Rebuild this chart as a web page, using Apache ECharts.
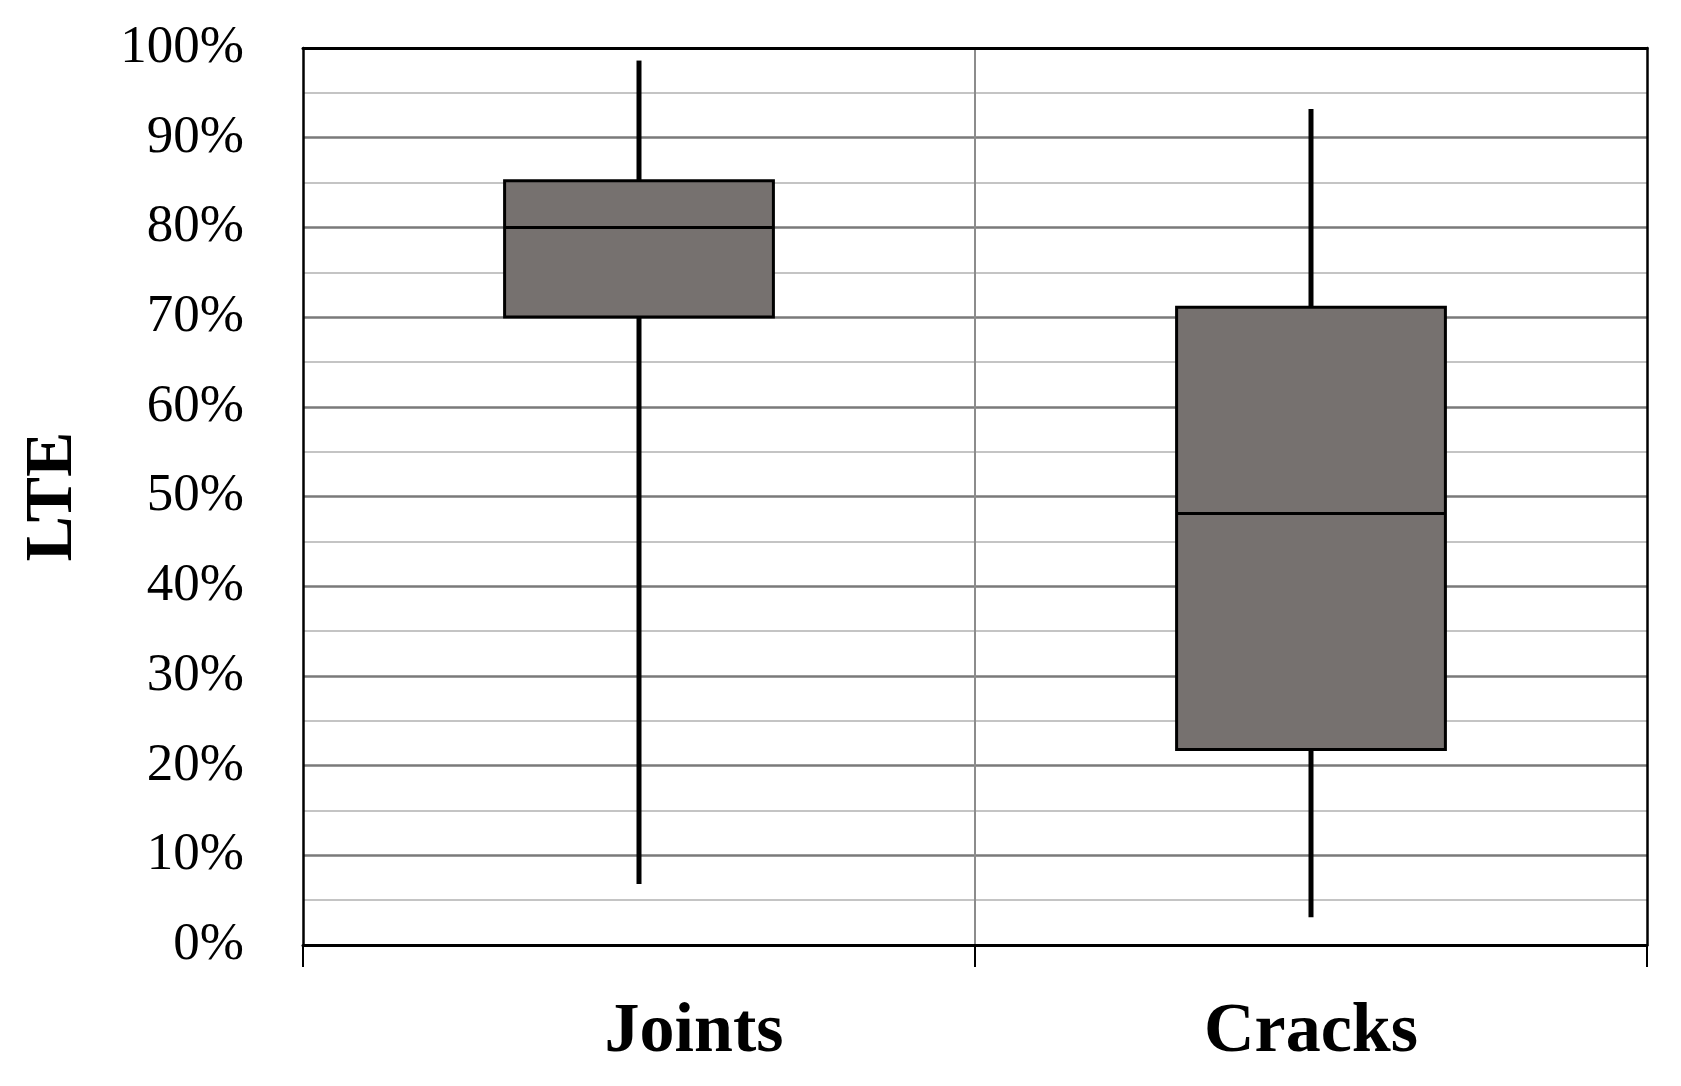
<!DOCTYPE html>
<html>
<head>
<meta charset="utf-8">
<title>LTE box plot</title>
<script src="https://cdn.jsdelivr.net/npm/echarts@6/dist/echarts.min.js"></script>
<style>
  html, body { margin: 0; padding: 0; background: #fff; }
  #chart { width: 1681px; height: 1086px; }
</style>
</head>
<body>
<div id="chart"></div>
<script>
// categories and five-number summaries (in %)
const categories = ['Joints', 'Cracks']
const minValues = [6.8, 3.1]
const q1Values = [70, 21.8]
const medianValues = [80, 48.1]
const q3Values = [85.2, 71.1]
const maxValues = [98.6, 93.2]

const boxData = categories.map((c, i) => [i, minValues[i], q1Values[i], medianValues[i], q3Values[i], maxValues[i]])

const serif = '"Liberation Serif", "DejaVu Serif", serif'

function renderBox(params, api) {
  const x = api.value(0)
  const pMin = api.coord([x, api.value(1)])
  const pQ1 = api.coord([x, api.value(2)])
  const pMed = api.coord([x, api.value(3)])
  const pQ3 = api.coord([x, api.value(4)])
  const pMax = api.coord([x, api.value(5)])
  const halfW = api.size([1, 0])[0] * 0.4 / 2
  const cx = pMed[0]
  return {
    type: 'group',
    children: [
      { type: 'line', shape: { x1: cx, y1: pMax[1], x2: cx, y2: pQ3[1] }, style: { stroke: '#000', lineWidth: 5 } },
      { type: 'line', shape: { x1: cx, y1: pQ1[1], x2: cx, y2: pMin[1] }, style: { stroke: '#000', lineWidth: 5 } },
      {
        type: 'rect',
        shape: { x: cx - halfW, y: pQ3[1], width: halfW * 2, height: pQ1[1] - pQ3[1] },
        style: { fill: '#76716f', stroke: '#000', lineWidth: 3 }
      },
      { type: 'line', shape: { x1: cx - halfW, y1: pMed[1], x2: cx + halfW, y2: pMed[1] }, style: { stroke: '#000', lineWidth: 3 } }
    ]
  }
}

const chart = echarts.init(document.getElementById('chart'))
chart.setOption({
  backgroundColor: '#fff',
  animation: false,
  grid: { left: 303, right: 34, top: 48, bottom: 141 },
  xAxis: [{
    type: 'category',
    data: categories,
    axisLine: { lineStyle: { color: '#000', width: 3 } },
    axisTick: { show: true, length: 22, lineStyle: { color: '#000', width: 2 } },
    splitLine: { show: true, showMinLine: false, showMaxLine: false, lineStyle: { color: '#8c8c8c', width: 2 } },
    axisLabel: {
      color: '#000', fontFamily: serif, fontWeight: 'bold', fontSize: 70, margin: 53,
      formatter: v => v === 'Joints' ? '{j|' + v + '}' : v,
      rich: {
        j: { fontFamily: serif, fontWeight: 'bold', fontSize: 70, color: '#000', padding: [0, 0, 0, 110] }
      }
    }
  }, {
    // top border
    type: 'category',
    position: 'top',
    data: categories,
    z: 20,
    axisLine: { show: true, onZero: false, lineStyle: { color: '#000', width: 3 } },
    axisTick: { show: false },
    axisLabel: { show: false },
    splitLine: { show: false }
  }],
  yAxis: [{
    type: 'value',
    min: 0, max: 100, interval: 10,
    name: 'LTE',
    nameLocation: 'middle',
    nameRotate: 90,
    nameGap: 216,
    nameTextStyle: { color: '#000', fontFamily: serif, fontWeight: 'bold', fontSize: 68 },
    axisLine: { show: true, lineStyle: { color: '#000', width: 2.5 } },
    axisTick: { show: false },
    axisLabel: {
      color: '#000', fontFamily: serif, fontSize: 53, margin: 59,
      formatter: v => v + '%'
    },
    splitLine: { show: true, showMaxLine: false, lineStyle: { color: '#7a7a7a', width: 2.5 } },
    minorTick: { show: false, splitNumber: 2 },
    minorSplitLine: { show: true, lineStyle: { color: '#c4c4c4', width: 2 } }
  }, {
    // right border
    type: 'value',
    position: 'right',
    min: 0, max: 100,
    z: 20,
    axisLine: { show: true, onZero: false, lineStyle: { color: '#000', width: 2.5 } },
    axisTick: { show: false },
    axisLabel: { show: false },
    splitLine: { show: false }
  }],
  series: [{
    type: 'custom',
    renderItem: renderBox,
    data: boxData,
    encode: { x: 0, y: [1, 2, 3, 4, 5] },
    z: 10
  }]
})
</script>
</body>
</html>
